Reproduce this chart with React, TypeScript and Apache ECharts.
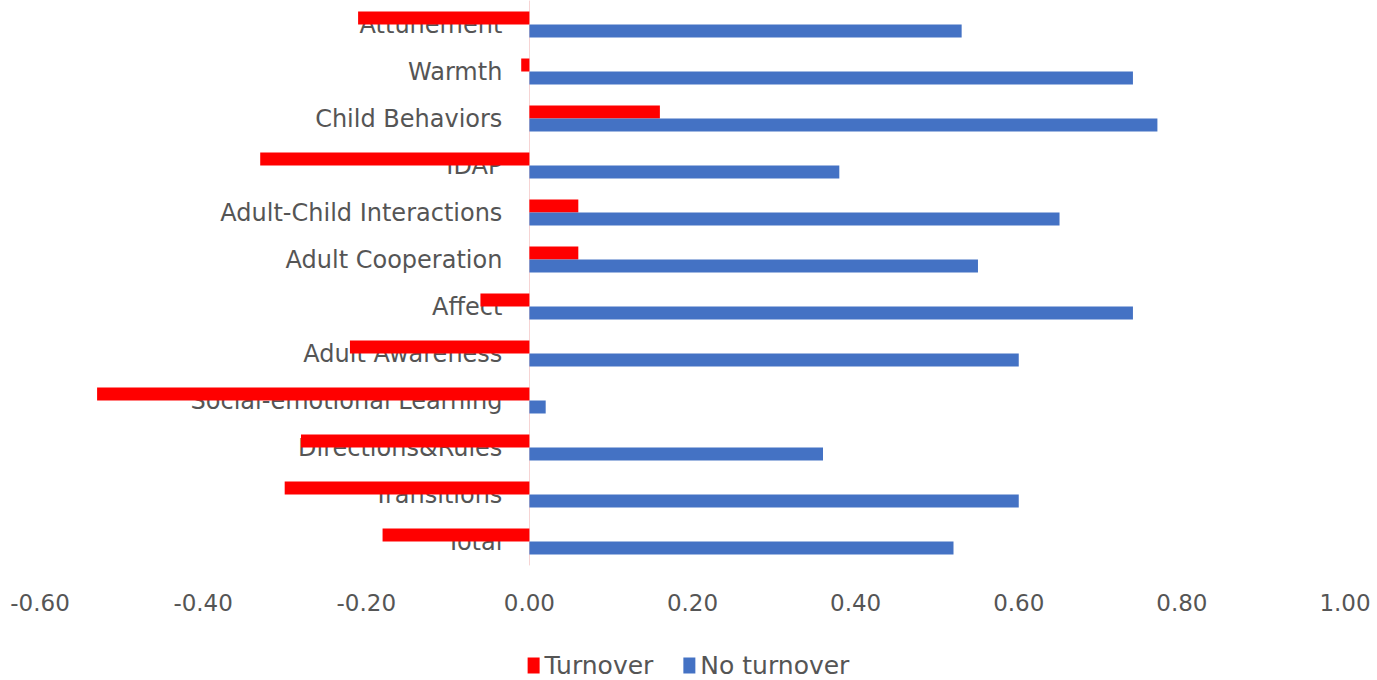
import React, { useEffect, useRef } from "react";
import * as echarts from "echarts";

const categories = [
  "Attunement",
  "Warmth",
  "Child Behaviors",
  "IDAP",
  "Adult-Child Interactions",
  "Adult Cooperation",
  "Affect",
  "Adult Awareness",
  "Social-emotional Learning",
  "Directions&Rules",
  "Transitions",
  "Total",
];

const turnover = [-0.21, -0.01, 0.16, -0.33, 0.06, 0.06, -0.06, -0.22, -0.53, -0.28, -0.3, -0.18];
const noTurnover = [0.53, 0.74, 0.77, 0.38, 0.65, 0.55, 0.74, 0.6, 0.02, 0.36, 0.6, 0.52];

const xTicks = { min: -0.6, max: 1.0, interval: 0.2 };

const FONT = "'DejaVu Sans', sans-serif";
const TEXT = "#555555";

const W = 1377;
const H = 680;
const GRID_LEFT = 40;
const GRID_RIGHT = 32;
const plotWidth = W - GRID_LEFT - GRID_RIGHT;
// pixel distance from the grid's left edge to the value 0, where the category axis sits
const zeroOffset = ((0 - xTicks.min) / (xTicks.max - xTicks.min)) * plotWidth;

export default function App() {
  const ref = useRef<HTMLDivElement>(null);

  useEffect(() => {
    if (!ref.current) return;
    const chart = echarts.init(ref.current, undefined, { renderer: "svg" });
    chart.setOption({
      animation: false,
      grid: {
        left: GRID_LEFT,
        right: GRID_RIGHT,
        top: 1,
        height: 564,
        containLabel: false,
        outerBoundsMode: "none",
      },
      legend: {
        top: 648,
        left: "center",
        itemWidth: 12,
        itemHeight: 16,
        itemGap: 30,
        icon: "rect",
        textStyle: { fontFamily: FONT, fontSize: 25, color: TEXT },
        data: ["Turnover", "No turnover"],
      },
      xAxis: {
        type: "value",
        min: xTicks.min,
        max: xTicks.max,
        interval: xTicks.interval,
        axisLine: { show: false },
        axisTick: { show: false },
        splitLine: { show: false },
        axisLabel: {
          formatter: (v: number) => v.toFixed(2),
          fontFamily: FONT,
          fontSize: 23,
          color: TEXT,
          margin: 26,
        },
      },
      yAxis: {
        type: "category",
        data: categories,
        inverse: true,
        position: "left",
        offset: -zeroOffset,
        axisLine: { onZero: false, lineStyle: { color: "#f6d4d4", width: 1 } },
        axisTick: { show: false },
        axisLabel: {
          fontFamily: FONT,
          fontSize: 24,
          color: TEXT,
          margin: 27,
        },
      },
      series: [
        {
          name: "Turnover",
          type: "bar",
          data: turnover,
          barWidth: 13,
          barGap: "0%",
          itemStyle: { color: "#FF0000" },
        },
        {
          name: "No turnover",
          type: "bar",
          data: noTurnover,
          barWidth: 13,
          barGap: "0%",
          itemStyle: { color: "#4472C4" },
        },
      ],
    });
    return () => chart.dispose();
  }, []);

  return (
    <div
      ref={ref}
      style={{ position: "absolute", left: 0, top: 0, width: W, height: H }}
    />
  );
}
